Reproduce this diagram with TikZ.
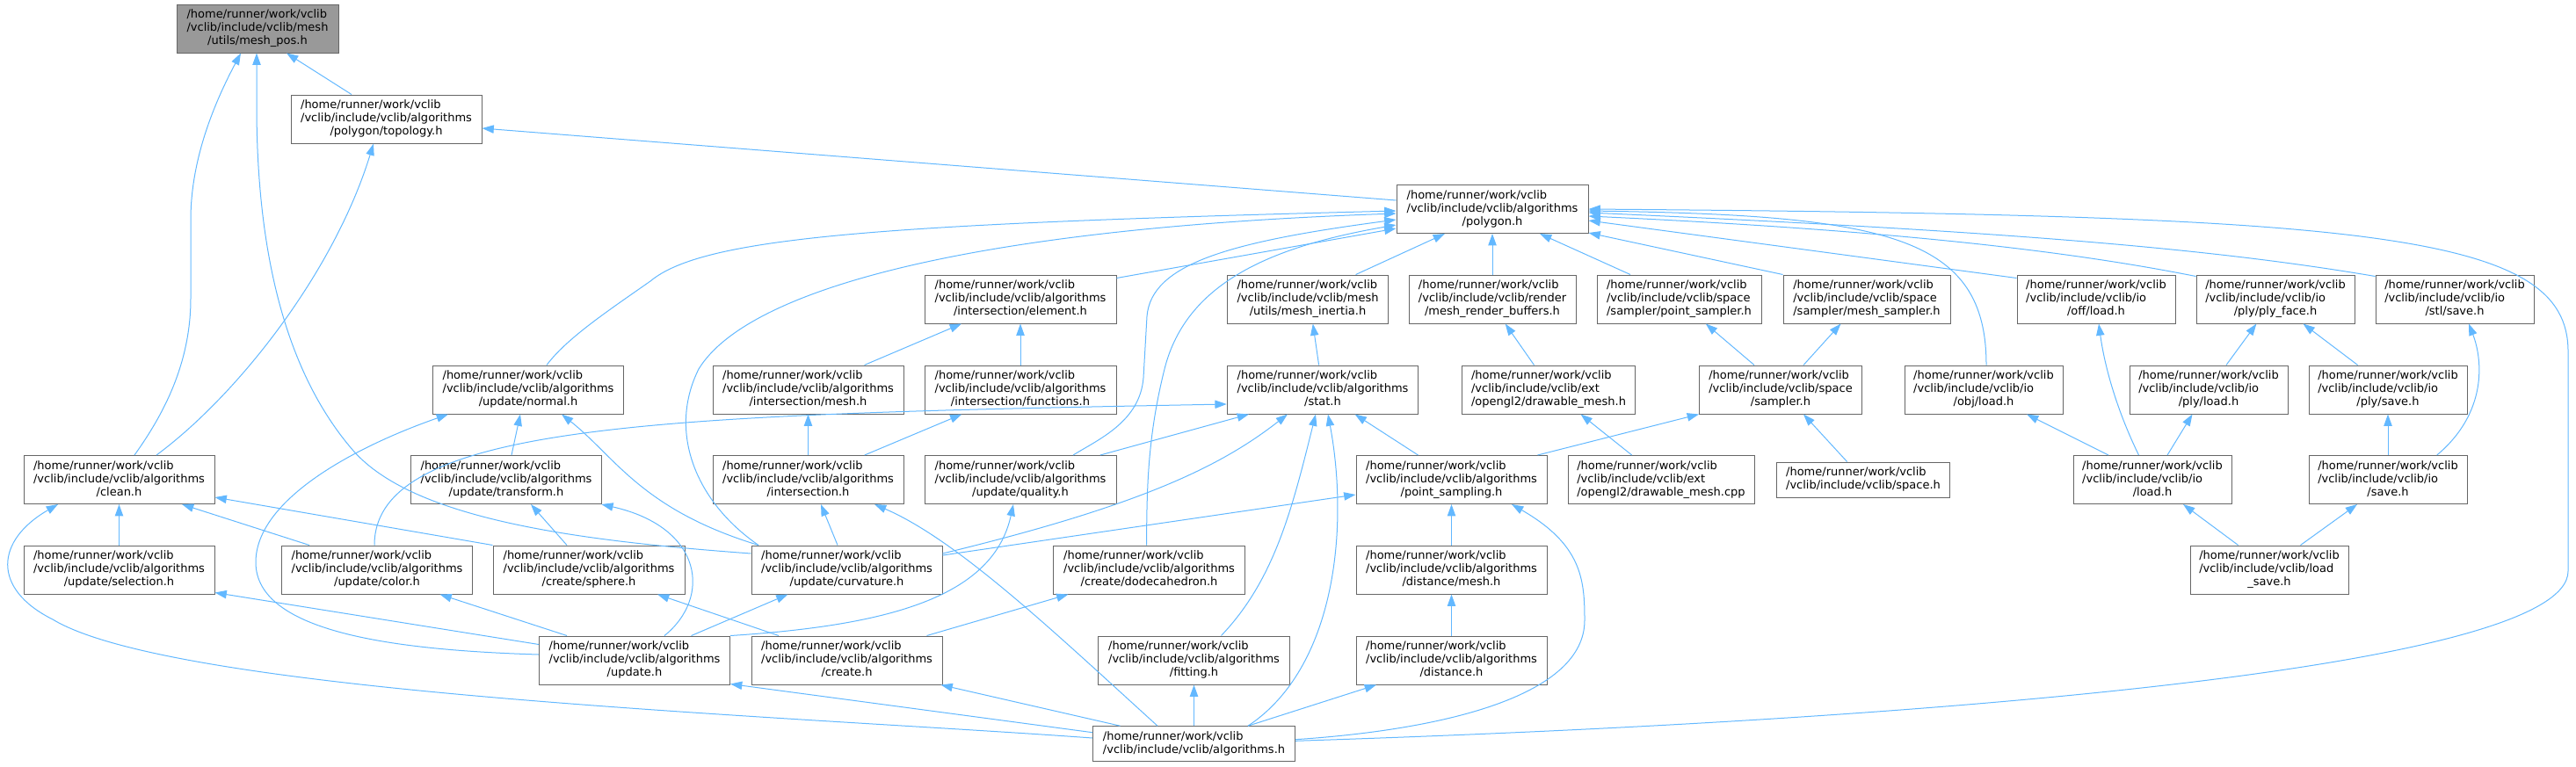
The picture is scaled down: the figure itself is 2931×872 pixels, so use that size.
\documentclass[tikz,border=0pt]{standalone}
\usepackage{fontspec}
\setmainfont{DejaVu Sans}
\usepackage{tikz}
\usetikzlibrary{arrows.meta}
\definecolor{edgeblue}{HTML}{63B8FF}
\definecolor{nodeline}{HTML}{666666}
\definecolor{rootfill}{HTML}{999999}
\newcommand{\fpath}[2]{\begin{tabular}{@{}l@{}}/home/runner/work/vclib\\/vclib/include/vclib/#1\\\multicolumn{1}{@{}c@{}}{#2}\end{tabular}}
\newcommand{\fpathtwo}[1]{\begin{tabular}{@{}l@{}}/home/runner/work/vclib\\#1\end{tabular}}
\tikzset{
  filebox/.style={draw=nodeline, fill=white, line width=0.75pt, inner sep=0pt,
    minimum height=41.25pt, minimum width=#1*0.75pt},
  rootbox/.style={filebox=#1, fill=rootfill},
  shortbox/.style={filebox=#1, minimum height=30pt},
  incl/.style={draw=edgeblue, line width=0.75pt, arrows={Triangle[length=10pt,width=7pt]-}}
}
\begin{document}
\begin{tikzpicture}[x=0.75pt, y=-0.75pt, font=\fontsize{9.75}{11.25}\selectfont]
  \useasboundingbox (0,0) rectangle (2931,872);

  % files
  \node[rootbox=184] (meshpos) at (293,32.5) {\fpath{mesh}{/utils/mesh\_pos.h}};
  \node[filebox=217] (topology) at (439.5,135.5) {\fpath{algorithms}{/polygon/topology.h}};
  \node[filebox=218] (polygon) at (1698,238) {\fpath{algorithms}{/polygon.h}};

  \node[filebox=218] (element) at (1161,340.5) {\fpath{algorithms}{/intersection/element.h}};
  \node[filebox=183] (inertia) at (1488,340.5) {\fpath{mesh}{/utils/mesh\_inertia.h}};
  \node[filebox=190] (renderbuf) at (1698,340.5) {\fpath{render}{/mesh\_render\_buffers.h}};
  \node[filebox=187] (ptsampler) at (1910.5,340.5) {\fpath{space}{/sampler/point\_sampler.h}};
  \node[filebox=190] (meshsampler) at (2124,340.5) {\fpath{space}{/sampler/mesh\_sampler.h}};
  \node[filebox=180] (offload) at (2385,340.5) {\fpath{io}{/off/load.h}};
  \node[filebox=180] (plyface) at (2589,340.5) {\fpath{io}{/ply/ply\_face.h}};
  \node[filebox=180] (stlsave) at (2793,340.5) {\fpath{io}{/stl/save.h}};

  \node[filebox=217.5] (normal) at (601,443.5) {\fpath{algorithms}{/update/normal.h}};
  \node[filebox=217] (isectmesh) at (919.5,443.5) {\fpath{algorithms}{/intersection/mesh.h}};
  \node[filebox=218] (isectfunc) at (1161,443.5) {\fpath{algorithms}{/intersection/functions.h}};
  \node[filebox=217.5] (stat) at (1505,443.5) {\fpath{algorithms}{/stat.h}};
  \node[filebox=197] (drawmesh) at (1762,443.5) {\fpath{ext}{/opengl2/drawable\_mesh.h}};
  \node[filebox=185] (sampler) at (2026,443.5) {\fpath{space}{/sampler.h}};
  \node[filebox=180] (objload) at (2257,443.5) {\fpath{io}{/obj/load.h}};
  \node[filebox=180] (plyload) at (2513,443.5) {\fpath{io}{/ply/load.h}};
  \node[filebox=180] (plysave) at (2717,443.5) {\fpath{io}{/ply/save.h}};

  \node[filebox=217] (clean) at (135.5,546) {\fpath{algorithms}{/clean.h}};
  \node[filebox=217.5] (transform) at (576,546) {\fpath{algorithms}{/update/transform.h}};
  \node[filebox=217] (isect) at (919.5,546) {\fpath{algorithms}{/intersection.h}};
  \node[filebox=218] (quality) at (1161,546) {\fpath{algorithms}{/update/quality.h}};
  \node[filebox=217] (ptsampling) at (1651.5,546) {\fpath{algorithms}{/point\_sampling.h}};
  \node[filebox=212] (drawcpp) at (1890,546) {\fpath{ext}{/opengl2/drawable\_mesh.cpp}};
  \node[shortbox=197] (space) at (2120,546) {\fpathtwo{/vclib/include/vclib/space.h}};
  \node[filebox=180] (load) at (2449,546) {\fpath{io}{/load.h}};
  \node[filebox=180] (save) at (2717,546) {\fpath{io}{/save.h}};

  \node[filebox=217] (selection) at (135.5,648.5) {\fpath{algorithms}{/update/selection.h}};
  \node[filebox=217.5] (color) at (429,648.5) {\fpath{algorithms}{/update/color.h}};
  \node[filebox=218] (sphere) at (670,648.5) {\fpath{algorithms}{/create/sphere.h}};
  \node[filebox=217] (curvature) at (963.5,648.5) {\fpath{algorithms}{/update/curvature.h}};
  \node[filebox=218] (dodeca) at (1307.5,648.5) {\fpath{algorithms}{/create/dodecahedron.h}};
  \node[filebox=217] (distmesh) at (1651.5,648.5) {\fpath{algorithms}{/distance/mesh.h}};
  \node[filebox=180] (loadsave) at (2582,648.5) {\fpath{load}{\_save.h}};

  \node[filebox=217] (update) at (722,751.5) {\fpath{algorithms}{/update.h}};
  \node[filebox=217] (create) at (963.5,751.5) {\fpath{algorithms}{/create.h}};
  \node[filebox=218] (fitting) at (1358.5,751.5) {\fpath{algorithms}{/fitting.h}};
  \node[filebox=217] (distance) at (1651.5,751.5) {\fpath{algorithms}{/distance.h}};
  \node[shortbox=230] (algos) at (1358.5,846.7) {\fpathtwo{/vclib/include/vclib/algorithms.h}};

  % includes
  \draw[incl] ([shift={(33,0)}]meshpos.south) -- ([shift={(-39.5,0)}]topology.north);
  \draw[incl] ([shift={(-19,0)}]meshpos.south) .. controls (245,115) and (217,180) .. (217,250)
    -- (217,340) .. controls (217,420) and (180,480) .. ([shift={(17.5,0)}]clean.north);
  \draw[incl] ([shift={(-1,0)}]meshpos.south) -- (292,120) .. controls (292,300) and (330,430) .. (402,513)
    .. controls (470,590) and (650,615) .. ([shift={(0,-18.5)}]curvature.west);
  \draw[incl] ([shift={(-14.5,0)}]topology.south) .. controls (380,310) and (270,450) .. ([shift={(42.5,0)}]clean.north);
  \draw[incl] ([shift={(0,10.5)}]topology.east) -- ([shift={(0,-10)}]polygon.west);

  \draw[incl] ([shift={(0,2)}]polygon.west) .. controls (1000,255) and (800,270) .. (740,320)
    .. controls (690,355) and (645,385) .. ([shift={(21,0)}]normal.north);
  \draw[incl] ([shift={(0,5)}]polygon.west) .. controls (1100,260) and (850,330) .. (795,420)
    .. controls (760,490) and (790,570) .. ([shift={(-100.5,0)}]curvature.north);
  \draw[incl] ([shift={(0,22)}]polygon.west) -- ([shift={(0,-24)}]element.east);
  \draw[incl] ([shift={(0,12)}]polygon.west) .. controls (1400,275) and (1310,300) .. (1305,360)
    -- (1301,430) .. controls (1297,480) and (1250,500) .. ([shift={(60,0)}]quality.north);
  \draw[incl] ([shift={(0,18)}]polygon.west) .. controls (1450,280) and (1350,320) .. (1325,420)
    .. controls (1305,500) and (1305,560) .. ([shift={(-3,0)}]dodeca.north);
  \draw[incl] ([shift={(-54,0)}]polygon.south) -- ([shift={(54.6,0)}]inertia.north);
  \draw[incl] (polygon) -- (renderbuf);
  \draw[incl] ([shift={(54,0)}]polygon.south) -- ([shift={(-55.5,0)}]ptsampler.north);
  \draw[incl] ([shift={(0,-1)}]polygon.south east) -- (meshsampler.north west);
  \draw[incl] ([shift={(0,13)}]polygon.east) -- ([shift={(0,4)}]offload.north west);
  \draw[incl] ([shift={(0,8)}]polygon.east) .. controls (2150,262) and (2350,285) .. ([shift={(0,2)}]plyface.north west);
  \draw[incl] ([shift={(0,4)}]polygon.east) .. controls (2250,262) and (2500,280) .. ([shift={(0,2)}]stlsave.north west);
  \draw[incl] ([shift={(0,2)}]polygon.east) .. controls (2150,245) and (2260,270) .. ([shift={(3,0)}]objload.north);
  \draw[incl] (polygon.east) .. controls (2700,245) and (2922,265) .. (2922,400) -- (2922,650)
    .. controls (2922,760) and (2200,820) .. ([shift={(0,-3.4)}]algos.east);

  \draw[incl] ([shift={(14.7,0)}]renderbuf.south) -- ([shift={(-16.5,0)}]drawmesh.north);
  \draw[incl] ([shift={(5.8,0)}]inertia.south) -- ([shift={(-4.4,0)}]stat.north);
  \draw[incl] ([shift={(-67,0)}]element.south) -- ([shift={(64,0)}]isectmesh.north);
  \draw[incl] (element) -- (isectfunc);
  \draw[incl] ([shift={(30.3,0)}]ptsampler.south) -- ([shift={(-30,0)}]sampler.north);
  \draw[incl] ([shift={(-29.5,0)}]meshsampler.south) -- ([shift={(26,0)}]sampler.north);
  \draw[incl] ([shift={(3,0)}]offload.south) .. controls (2395,420) and (2410,470) .. ([shift={(-15.5,0)}]load.north);
  \draw[incl] ([shift={(49,0)}]objload.south) -- ([shift={(-50,0)}]load.north);
  \draw[incl] ([shift={(-21.6,0)}]plyface.south) -- ([shift={(20,0)}]plyload.north);
  \draw[incl] ([shift={(31.5,0)}]plyface.south) -- ([shift={(-34.4,0)}]plysave.north);
  \draw[incl] ([shift={(16,0)}]stlsave.south) .. controls (2825,410) and (2830,470) .. ([shift={(55.7,0)}]save.north);
  \draw[incl] ([shift={(-18.5,0)}]plyload.south) -- ([shift={(17,0)}]load.north);
  \draw[incl] (plysave) -- (save);
  \draw[incl] ([shift={(35,0)}]load.south) -- ([shift={(-35.4,0)}]loadsave.north);
  \draw[incl] ([shift={(-35,0)}]save.south) -- ([shift={(35.5,0)}]loadsave.north);
  \draw[incl] ([shift={(36.5,0)}]drawmesh.south) -- ([shift={(-33.3,0)}]drawcpp.north);
  \draw[incl] (sampler.south west) -- ([shift={(98,0)}]ptsampling.north);
  \draw[incl] ([shift={(26,0)}]sampler.south) -- ([shift={(-18.4,0)}]space.north);

  \draw[incl] ([shift={(36.6,0)}]stat.south) -- ([shift={(-38,0)}]ptsampling.north);
  \draw[incl] ([shift={(-84,0)}]stat.south) -- ([shift={(90.8,0)}]quality.north);
  \draw[incl] ([shift={(-40,0)}]stat.south) .. controls (1390,530) and (1300,575) .. ([shift={(0,-18.5)}]curvature.east);
  \draw[incl] ([shift={(0,17)}]ptsampling.west) -- ([shift={(0,-16.5)}]curvature.east);
  \draw[incl] ([shift={(0,16.5)}]stat.west) .. controls (760,472) and (426,480) .. ([shift={(-3,0)}]color.north);
  \draw[incl] ([shift={(-8,0)}]stat.south) .. controls (1470,580) and (1450,660) .. ([shift={(31,0)}]fitting.north);
  \draw[incl] ([shift={(6,0)}]stat.south) .. controls (1535,600) and (1520,760) .. ([shift={(61.5,0)}]algos.north);

  \draw[incl] ([shift={(-9,0)}]normal.south) -- ([shift={(6,0)}]transform.north);
  \draw[incl] ([shift={(38,0)}]normal.south) .. controls (700,520) and (730,580) .. ([shift={(-100.5,0)}]curvature.north);
  \draw[incl] ([shift={(-91,0)}]normal.south) .. controls (400,510) and (291,570) .. (291,640)
    .. controls (291,720) and (450,740) .. ([shift={(0,-6.5)}]update.west);
  \draw[incl] ([shift={(28,0)}]transform.south) -- ([shift={(-25,0)}]sphere.north);
  \draw[incl] ([shift={(-1,0)}]transform.south east) .. controls (800,600) and (810,680) .. ([shift={(34,0)}]update.north);
  \draw[incl] ([shift={(-67,0)}]curvature.south) -- ([shift={(64.6,0)}]update.north);
  \draw[incl] ([shift={(78,0)}]sphere.south) -- ([shift={(-77.5,0)}]create.north);
  \draw[incl] ([shift={(71.5,0)}]color.south) -- ([shift={(-77,0)}]update.north);
  \draw[incl] ([shift={(0,-2)}]selection.south east) -- ([shift={(0,-18)}]update.west);

  \draw[incl] (clean) -- (selection);
  \draw[incl] ([shift={(71.5,0)}]clean.south) -- ([shift={(-77,0)}]color.north);
  \draw[incl] ([shift={(0,20)}]clean.east) -- (sphere.north west);
  \draw[incl] ([shift={(-69.5,0)}]clean.south) .. controls (-5,615) and (-10,670) .. (60,705)
    .. controls (200,790) and (900,815) .. ([shift={(0,-6.7)}]algos.west);

  \draw[incl] ([shift={(0,-1)}]update.south east) -- ([shift={(0,-13)}]algos.west);
  \draw[incl] ([shift={(-2,0)}]create.south east) -- ([shift={(-84,0)}]algos.north);
  \draw[incl] ([shift={(75.5,0)}]isect.south) .. controls (1090,615) and (1200,720) .. ([shift={(-41.5,0)}]algos.north);
  \draw[incl] ([shift={(14.5,0)}]isect.south) -- ([shift={(-10.5,0)}]curvature.north);
  \draw[incl] ([shift={(-66.6,0)}]isectfunc.south) -- ([shift={(64.2,0)}]isect.north);
  \draw[incl] (isectmesh) -- (isect);
  \draw[incl] ([shift={(-8,0)}]quality.south) .. controls (1130,680) and (1010,712) .. (update.north east);
  \draw[incl] ([shift={(-92,0)}]dodeca.south) -- ([shift={(91,0)}]create.north);

  \draw[incl] (fitting) -- (algos);
  \draw[incl] ([shift={(-85.5,0)}]distance.south) -- ([shift={(61.5,0)}]algos.north);
  \draw[incl] (distmesh) -- (distance);
  \draw[incl] (ptsampling) -- (distmesh);
  \draw[incl] ([shift={(68.5,0)}]ptsampling.south) .. controls (1800,620) and (1803,660) .. (1803,706)
    .. controls (1803,790) and (1650,830) .. ([shift={(0,-5)}]algos.east);
\end{tikzpicture}
\end{document}
